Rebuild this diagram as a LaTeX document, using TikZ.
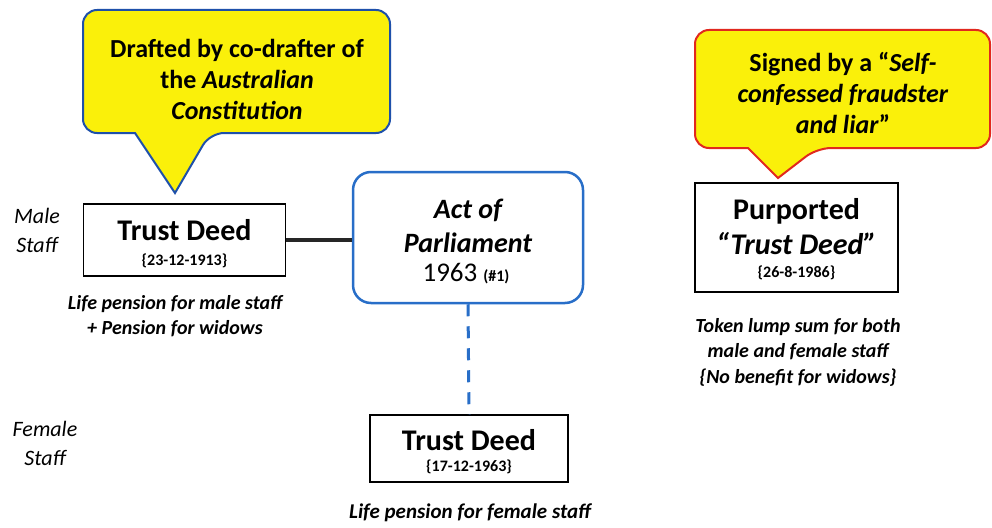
\documentclass[tikz,border=0pt]{standalone}
\usepackage{fontspec}
\setmainfont{Carlito}
\definecolor{calloutyellow}{RGB}{250,240,10}
\definecolor{boxblue}{RGB}{40,110,200}
\definecolor{callblue}{RGB}{30,80,170}
\definecolor{callred}{RGB}{225,40,30}
\tikzset{
  deedbox/.style={draw=black, line width=1.4pt, fill=white, inner sep=0pt},
  actbox/.style={draw=boxblue, line width=2.5pt, rounded corners=18pt, fill=white, inner sep=0pt},
  callout/.style={fill=calloutyellow, line width=2pt},
  lbl/.style={align=center, inner sep=0pt, font=\fontsize{21}{25}\selectfont\itshape},
  calltext/.style={align=center, inner sep=0pt, font=\fontsize{26}{31}\selectfont\bfseries},
}
\begin{document}
\begin{tikzpicture}[x=1pt,y=-1pt]
\useasboundingbox (0,0) rectangle (992,527);
% callout 1
\draw[callout, draw=callblue] [rounded corners=14pt] (135,133) -- (83,133) -- (83,10) -- (390,10) -- (390,133) -- (210,133) [sharp corners] -- (175,193) -- cycle;
\node[calltext] (c1) at (237,79) {Drafted by co-drafter of\\the \textit{Australian}\\\textit{Constitution}};
% callout 2
\draw[callout, draw=callred] [rounded corners=14pt] (748,148) -- (695,148) -- (695,30) -- (990,30) -- (990,148) -- (817,148) [sharp corners] -- (778,178) -- cycle;
\node[calltext] (c2) at (843,93) {Signed by a ``\textit{Self-}\\\textit{confessed fraudster}\\\textit{and liar}''};
% boxes
\node[deedbox, minimum width=202pt, minimum height=72pt] (td1) at (184.5,240) {};
\node[font=\fontsize{30}{30}\selectfont\bfseries] at (184.5,230) {Trust Deed};
\node[font=\fontsize{16}{16}\selectfont\bfseries] at (184.5,261) {\{23-12-1913\}};
\node[actbox, minimum width=230pt, minimum height=131pt] (act) at (468,237.5) {};
\node[font=\fontsize{28}{28}\selectfont\bfseries\itshape] at (468,210) {Act of};
\node[font=\fontsize{28}{28}\selectfont\bfseries\itshape] at (468,243) {Parliament};
\node[font=\fontsize{27}{27}\selectfont] at (466,274) {1963 {\fontsize{16}{16}\selectfont\bfseries(\#1)}};
\node[deedbox, minimum width=198pt, minimum height=67pt] (td2) at (469,448.5) {};
\node[font=\fontsize{30}{30}\selectfont\bfseries] at (469,440) {Trust Deed};
\node[font=\fontsize{16}{16}\selectfont\bfseries] at (469,467) {\{17-12-1963\}};
\node[deedbox, minimum width=203pt, minimum height=109pt] (ptd) at (796.5,237.5) {};
\node[font=\fontsize{30}{30}\selectfont\bfseries] at (796.5,211) {Purported};
\node[font=\fontsize{30}{30}\selectfont\bfseries\itshape] at (796.5,244) {``Trust Deed''};
\node[font=\fontsize{16}{16}\selectfont\bfseries] at (796.5,273) {\{26-8-1986\}};
% side labels
\node[lbl, font=\fontsize{22}{29}\selectfont\itshape] (male) at (37,230) {Male\\Staff};
\node[lbl, font=\fontsize{22}{29}\selectfont\itshape] (female) at (45,443) {Female\\Staff};
% descriptions
\node[lbl, font=\fontsize{20}{25}\selectfont\bfseries\itshape] (d1) at (175,316) {Life pension for male staff\\+ Pension for widows};
\node[lbl, font=\fontsize{21}{25}\selectfont\bfseries\itshape] (d2) at (470,513) {Life pension for female staff};
\node[lbl, font=\fontsize{20}{25.5}\selectfont\bfseries\itshape] (d3) at (798,352) {Token lump sum for both\\male and female staff\\\{No benefit for widows\}};
% connectors
\draw[line width=4pt, black!85] (td1.east) -- (td1.east -| act.west);
\draw[line width=3pt, boxblue, dash pattern=on 12pt off 10pt] (act.south) -- (td2.north);
\end{tikzpicture}
\end{document}
